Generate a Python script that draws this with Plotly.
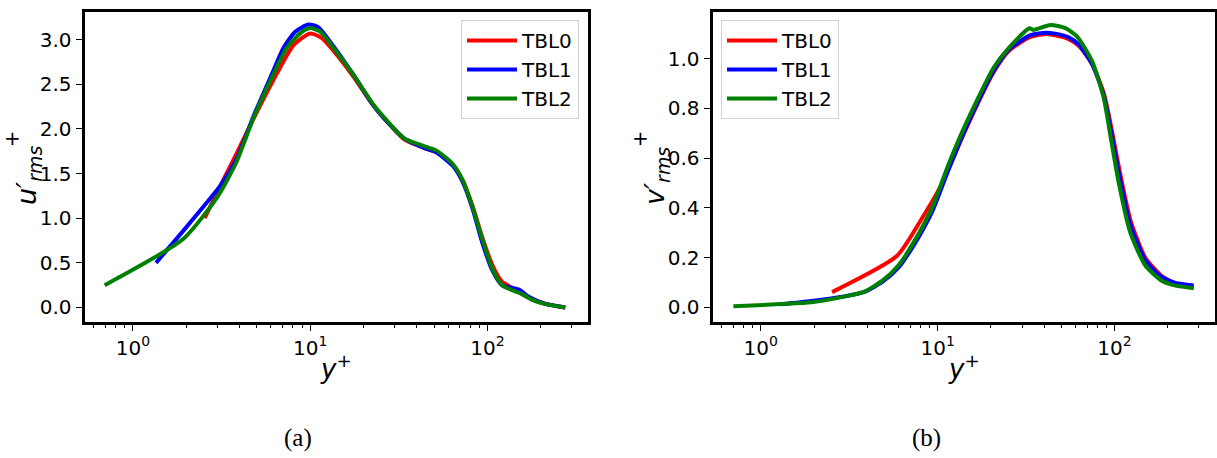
import plotly.graph_objects as go

# Wall-normal coordinate y+ and RMS velocity fluctuations for three boundary layers
# --- streamwise component u'_rms+ ---
u_tbl0_y = [2.54, 3.13, 3.88, 4.81, 6.1, 8.06, 10.0, 11.6, 13.5, 17.5, 22.6, 28.1, 34.1,
            45.1, 51.4, 63.6, 72.4, 82.4, 93.8, 107, 121, 144, 157, 179, 213, 275]
u_tbl0 = [1.00, 1.37, 1.74, 2.12, 2.52, 2.94, 3.07, 3.02, 2.88, 2.59, 2.27, 2.05, 1.88,
          1.78, 1.74, 1.60, 1.43, 1.14, 0.78, 0.47, 0.29, 0.20, 0.15, 0.09, 0.04, 0.0]

u_tbl1_y = [1.35, 1.87, 3.13, 3.88, 4.81, 6.10, 7.08, 8.24, 9.78, 11.1, 13.5, 17.5, 22.6,
            28.1, 34.1, 45.1, 51.4, 63.6, 72.4, 82.4, 93.8, 107, 121, 151, 171, 213, 275]
u_tbl1 = [0.50, 0.83, 1.37, 1.68, 2.15, 2.62, 2.91, 3.09, 3.17, 3.14, 2.93, 2.61, 2.27,
          2.05, 1.89, 1.78, 1.74, 1.59, 1.41, 1.11, 0.72, 0.41, 0.25, 0.20, 0.12, 0.04, 0.0]

u_tbl2_y = [0.693, 1.93, 3.0, 3.80, 4.81, 6.10, 7.40, 8.79, 10.0, 11.4, 13.5, 17.5, 22.6,
            28.1, 34.1, 45.1, 51.4, 63.6, 72.4, 82.4, 93.8, 107, 121, 144, 157, 179, 213, 275]
u_tbl2 = [0.25, 0.77, 1.24, 1.61, 2.13, 2.58, 2.91, 3.07, 3.13, 3.09, 2.91, 2.61, 2.28,
          2.06, 1.89, 1.80, 1.76, 1.61, 1.43, 1.13, 0.76, 0.43, 0.25, 0.18, 0.15, 0.085, 0.037, 0.0]

# --- wall-normal component v'_rms+ ---
v_tbl0_y = [2.53, 5.87, 8.09, 10.4, 13.9, 17.0, 20.7, 25.2, 33.0, 40, 46, 55, 63, 75, 87,
            96, 106, 123, 149, 182, 221, 280]
v_tbl0 = [0.061, 0.206, 0.354, 0.487, 0.69, 0.825, 0.945, 1.03, 1.085, 1.098, 1.093, 1.078,
          1.05, 0.975, 0.86, 0.72, 0.56, 0.35, 0.20, 0.13, 0.095, 0.08]

v_tbl1_y = [1.30, 1.93, 3.01, 3.86, 4.93, 6.01, 7.33, 9.38, 11.4, 13.9, 17.0, 20.7, 25.2,
            33.0, 39.3, 46, 55, 63, 75, 87, 96, 106, 123, 149, 182, 221, 280]
v_tbl1 = [0.012, 0.025, 0.045, 0.062, 0.105, 0.160, 0.250, 0.390, 0.545, 0.695, 0.830, 0.950,
          1.035, 1.092, 1.103, 1.100, 1.085, 1.055, 0.975, 0.850, 0.700, 0.535, 0.33, 0.19,
          0.125, 0.098, 0.088]

v_tbl2_y = [0.70, 1.30, 1.93, 3.01, 3.86, 4.93, 6.01, 7.33, 9.38, 11.4, 13.9, 17.0, 20.7,
            25.2, 33.0, 34.7, 43.4, 52.8, 61.3, 74.7, 86.7, 95.7, 105.6, 122.5, 149, 182, 221, 280]
v_tbl2 = [0.004, 0.013, 0.020, 0.044, 0.063, 0.110, 0.169, 0.262, 0.407, 0.566, 0.712, 0.844,
          0.963, 1.042, 1.122, 1.115, 1.135, 1.122, 1.089, 0.989, 0.844, 0.672, 0.50, 0.302,
          0.169, 0.110, 0.087, 0.077]

names = ["TBL0", "TBL1", "TBL2"]
colors = ["#ff0000", "#0000ff", "#008000"]

x_major = [1, 10, 100]
x_major_text = ["10<sup>0</sup>", "10<sup>1</sup>", "10<sup>2</sup>"]
x_minor = [m * 10 ** e for e in (-1, 0, 1, 2) for m in range(2, 10) if 0.55 <= m * 10 ** e <= 360]

W, H = 1217, 458
FONT = "DejaVu Sans"

fig = go.Figure()

u_sets = [(u_tbl0_y, u_tbl0), (u_tbl1_y, u_tbl1), (u_tbl2_y, u_tbl2)]
v_sets = [(v_tbl0_y, v_tbl0), (v_tbl1_y, v_tbl1), (v_tbl2_y, v_tbl2)]

line_kw = dict(width=4, shape="spline", smoothing=0.6)

for name, col, (xs, ys) in zip(names, colors, u_sets):
    fig.add_trace(go.Scatter(x=xs, y=ys, mode="lines", name=name,
                             line=dict(color=col, **line_kw),
                             xaxis="x", yaxis="y", legend="legend"))
for name, col, (xs, ys) in zip(names, colors, v_sets):
    fig.add_trace(go.Scatter(x=xs, y=ys, mode="lines", name=name,
                             line=dict(color=col, **line_kw),
                             xaxis="x2", yaxis="y2", legend="legend2"))


def px(v):
    return v / W


def py(v):
    return 1 - v / H


y_dom = [py(321.5), py(12)]

xaxis_style = dict(
    type="log", range=[-0.273, 2.565],
    showline=True, linewidth=3, linecolor="black", mirror=True,
    ticks="outside", ticklen=6, tickwidth=1.3, tickcolor="black",
    tickmode="array", tickvals=x_major, ticktext=x_major_text,
    minor=dict(tickmode="array", tickvals=x_minor, ticks="outside",
               ticklen=3.5, tickwidth=1, tickcolor="black", showgrid=False),
    showgrid=False, zeroline=False,
    tickfont=dict(family=FONT, size=20, color="black"),
)
yaxis_style = dict(
    showline=True, linewidth=3, linecolor="black", mirror=True,
    ticks="outside", ticklen=6, tickwidth=1.3, tickcolor="black",
    showgrid=False, zeroline=False, tickformat=".1f",
    tickfont=dict(family=FONT, size=20, color="black"),
)

legend_style = dict(
    bgcolor="white", bordercolor="#d0d0d0", borderwidth=1,
    font=dict(family=FONT, size=20, color="black"),
    itemwidth=50,
    yanchor="top", y=py(20), xref="paper", yref="paper",
)

fig.update_layout(
    width=W, height=H,
    margin=dict(l=0, r=0, t=0, b=0),
    paper_bgcolor="white", plot_bgcolor="white",
    showlegend=True,
    xaxis=dict(domain=[px(84.5), px(587.5)], anchor="y", **xaxis_style),
    yaxis=dict(domain=y_dom, anchor="x", range=[-0.157, 3.31], dtick=0.5, **yaxis_style),
    xaxis2=dict(domain=[px(712.5), px(1214.5)], anchor="y2", **xaxis_style),
    yaxis2=dict(domain=y_dom, anchor="x2", range=[-0.057, 1.187], dtick=0.2, **yaxis_style),
    legend=dict(xanchor="right", x=px(579), **legend_style),
    legend2=dict(xanchor="left", x=px(721), **legend_style),
)


def label(x, y, text, size, family=FONT, angle=0):
    fig.add_annotation(x=px(x), y=py(y), xref="paper", yref="paper",
                       xanchor="center", yanchor="middle",
                       text=text, textangle=angle, showarrow=False,
                       font=dict(family=family, size=size, color="black"))


# Axis titles and sub-figure captions
for dx, ylab, cap in [(0, "u", "(a)"), (628, "v", "(b)")]:
    label(28 + dx, 176, f"<i>{ylab}′<sub>rms</sub></i>", 27, angle=-90)
    label(12 + dx, 138, "+", 20)
    label(336 + dx, 367, "<i>y</i><sup>+</sup>", 26)
    label(298 + dx, 438, cap, 25, family="Liberation Serif")

fig.write_html("out.html")
